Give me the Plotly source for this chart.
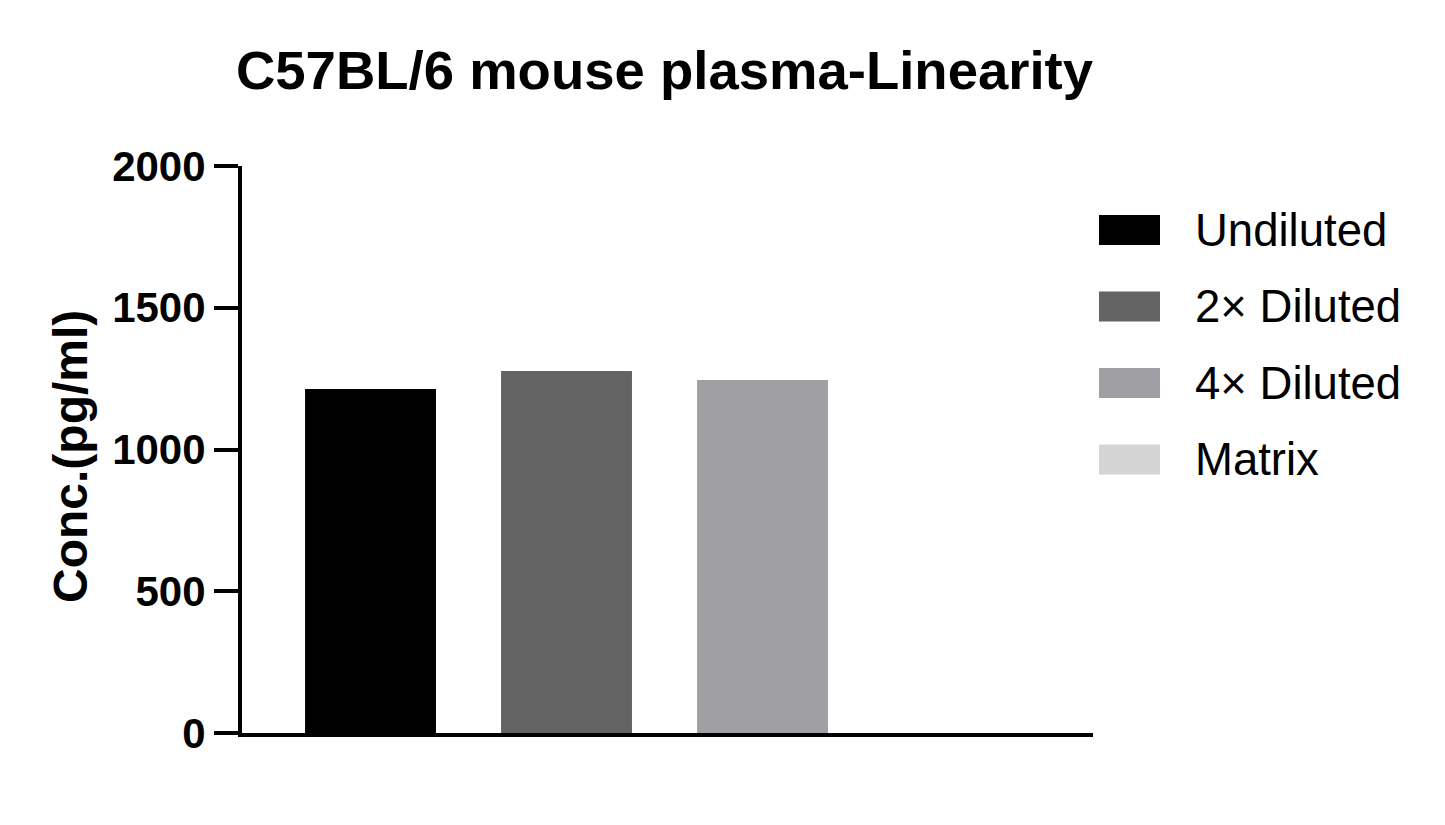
import plotly.graph_objects as go

# ---- data ----
groups = ["Undiluted", "2× Diluted", "4× Diluted", "Matrix"]
conc = [1213, 1277, 1245, 0]
colors = ["#000000", "#636363", "#a0a0a4", "#d4d4d4"]
y_ticks = [0, 500, 1000, 1500, 2000]

FONT = "Liberation Sans, Arial, sans-serif"
W, H = 1445, 825
OFF = 8  # page body margin shifts the figure by this much
L, R, T, B = 234, 360, 158, 100

fig = go.Figure()
for name, val, col in zip(groups, conc, colors):
    fig.add_trace(go.Bar(
        x=[name], y=[val], name=name,
        marker=dict(color=col, line=dict(width=0)),
        width=0.668, showlegend=False,
    ))

# screen pixel -> paper coordinates (legend and axis title placement)
plot_w = W - L - R
plot_h = H - T - B
def px_x(p):
    return (p - OFF - L) / plot_w
def px_y(p):
    return (H - B - (p - OFF)) / plot_h

row0, step = 230, 76.5
for i, (name, col) in enumerate(zip(groups, colors)):
    cy = row0 + i * step
    fig.add_shape(type="rect", xref="paper", yref="paper",
                  x0=px_x(1099), x1=px_x(1160), y0=px_y(cy + 15), y1=px_y(cy - 15),
                  fillcolor=col, line=dict(width=0))
    fig.add_annotation(xref="paper", yref="paper", x=px_x(1193), y=px_y(cy),
                       xanchor="left", yanchor="middle", text=name, showarrow=False,
                       font=dict(family=FONT, size=45.5, color="#000000"))

# y axis title
fig.add_annotation(xref="paper", yref="paper", x=px_x(70), y=px_y(457),
                   xanchor="center", yanchor="middle", textangle=-90,
                   text="Conc.(pg/ml)", showarrow=False,
                   font=dict(family=FONT, size=48, color="#000000", weight="bold"))

fig.update_layout(
    width=W, height=H,
    margin=dict(l=L, r=R, t=T, b=B),
    paper_bgcolor="white", plot_bgcolor="white",
    barmode="overlay",
    showlegend=False,
    title=dict(text="C57BL/6 mouse plasma-Linearity",
               font=dict(family=FONT, size=54.5, color="#000000", weight="bold"),
               x=(664.5 - OFF) / W, xanchor="center",
               y=1 - 62 / H, yanchor="middle", yref="container"),
    font=dict(family=FONT, color="#000000"),
)
fig.update_xaxes(
    range=[-0.6556, 3.686], showticklabels=False, ticks="", showgrid=False,
    showline=True, linecolor="#000000", linewidth=4, zeroline=False,
)
fig.update_yaxes(
    range=[0, 2000], tickvals=y_ticks, ticks="outside", ticklen=24, tickwidth=4,
    tickcolor="#000000", showline=True, linecolor="#000000", linewidth=4,
    showgrid=False, zeroline=False,
    tickfont=dict(family=FONT, size=42, color="#000000", weight="bold"),
)

fig.write_html("out.html")
